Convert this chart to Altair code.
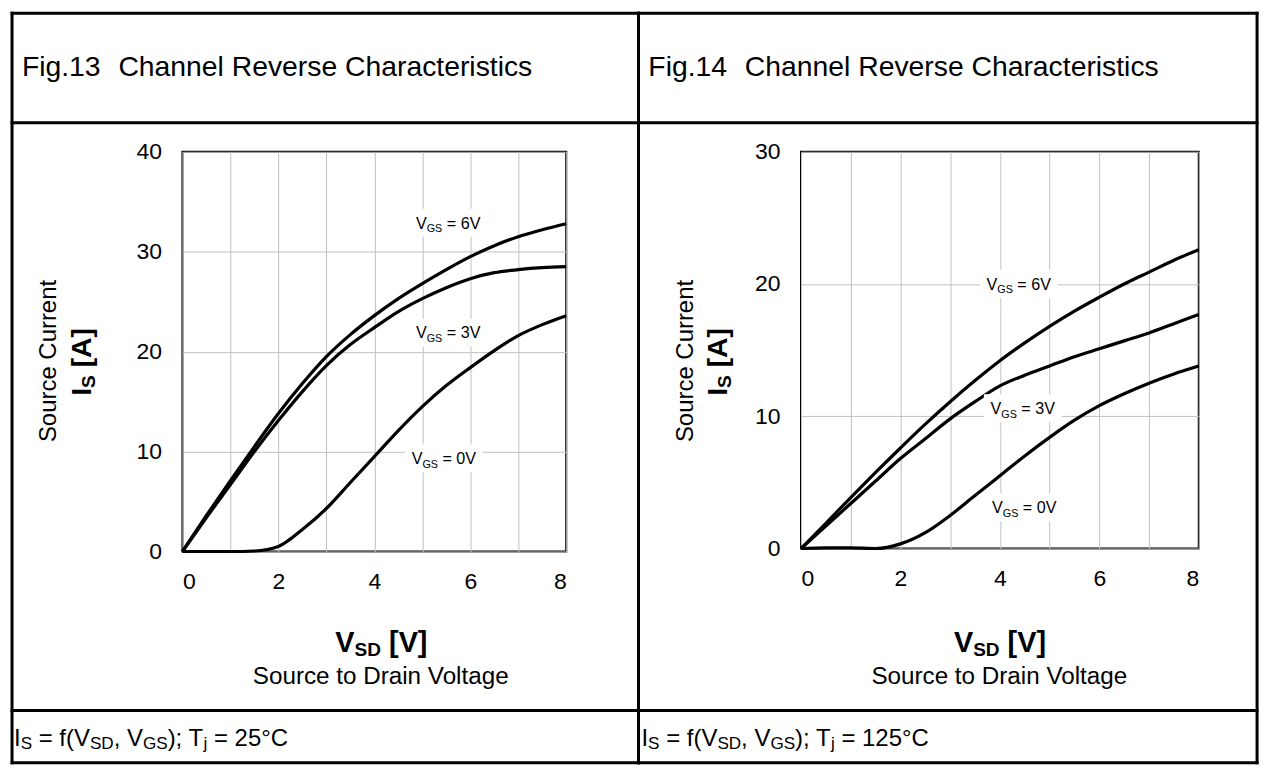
import altair as alt
import pandas as pd

# ---------------- values ----------------
V_SD = [0, 0.5, 1, 1.5, 2, 2.5, 3, 3.5, 4, 4.5, 5, 5.5, 6, 6.5, 7, 7.5, 8]

# Fig.13, Tj = 25 C
IS_25_VGS6 = [0, 3.6, 7.1, 10.5, 13.8, 16.8, 19.5, 21.7, 23.6, 25.3, 26.8, 28.2, 29.5, 30.6, 31.5, 32.2, 32.8]
IS_25_VGS3 = [0, 3.4, 6.7, 10.0, 13.1, 16.0, 18.6, 20.7, 22.4, 24.0, 25.3, 26.4, 27.3, 27.9, 28.2, 28.4, 28.5]
IS_25_VGS0 = [0, 0, 0, 0.05, 0.5, 2.2, 4.3, 6.9, 9.5, 12.1, 14.5, 16.6, 18.4, 20.1, 21.6, 22.7, 23.6]

# Fig.14, Tj = 125 C
IS_125_VGS6 = [0, 1.9, 3.85, 5.75, 7.6, 9.4, 11.1, 12.7, 14.2, 15.55, 16.8, 17.95, 19.0, 20.0, 20.9, 21.8, 22.6]
IS_125_VGS3 = [0, 1.7, 3.4, 5.1, 6.8, 8.3, 9.8, 11.1, 12.3, 13.1, 13.8, 14.5, 15.1, 15.7, 16.3, 17.0, 17.7]
IS_125_VGS0 = [0, 0.05, 0.05, 0, 0.35, 1.2, 2.5, 4.0, 5.5, 7.0, 8.4, 9.7, 10.8, 11.7, 12.5, 13.2, 13.8]

GATE = ["6V", "3V", "0V"]
LABEL_X_25 = [5.54, 5.54, 5.45]
LABEL_Y_25 = [32.9, 21.9, 9.3]
LABEL_X_125 = [4.38, 4.46, 4.49]
LABEL_Y_125 = [20.0, 10.6, 3.1]

X_TICKS = [0, 1, 2, 3, 4, 5, 6, 7, 8]
Y_TICKS_25 = [0, 10, 20, 30, 40]
Y_TICKS_125 = [0, 10, 20, 30]

# ---------------- layout helpers ----------------
FONT = "Liberation Sans"
SX = 1249 / 1264
SY = 752 / 774
FS = 0.98


def PX(X):
    return 9.5 + (X - 2) * SX


def PY(Y):
    return 9.5 + (Y - 2) * SY


ONE = pd.DataFrame({"k": [0]})

REG = {" ": 278, "(": 333, ")": 333, ",": 278, ".": 278, ";": 278, "=": 584, "[": 278, "]": 278,
       "\u00b0": 400, "A": 667, "C": 722, "D": 722, "F": 611, "G": 778, "I": 278, "R": 722,
       "S": 667, "T": 611, "V": 667, "a": 556, "c": 500, "e": 556, "f": 278, "g": 556, "h": 556,
       "i": 222, "j": 222, "l": 222, "n": 556, "o": 556, "r": 333, "s": 500, "t": 278, "u": 556,
       "v": 500}
BOLD = {" ": 278, "[": 333, "]": 333, "A": 722, "D": 722, "I": 278, "S": 667, "V": 667}


def tw(s, size, bold=False):
    t = BOLD if bold else REG
    return sum(t.get(c, 556) for c in s) * size / 1000.0


def rich_text(pieces, x, y, size, sub_size, drop, bold=False, center=False, angle=0):
    ws = [tw(t, sub_size if s else size, bold) for t, s in pieces]
    cur = -sum(ws) / 2 if center else 0.0
    out = []
    for (t, s), w in zip(pieces, ws):
        fsz = sub_size if s else size
        lead = len(t) - len(t.lstrip(" "))
        body = t.strip(" ")
        off = cur + tw(" " * lead, fsz, bold)
        if body:
            out.append(
                alt.Chart(ONE).mark_text(
                    text=body, font=FONT, fontSize=fsz, fontWeight="bold" if bold else "normal",
                    align="left", baseline="alphabetic", angle=angle, dx=off,
                    dy=drop if s else 0, color="black",
                ).encode(x=alt.value(x), y=alt.value(y))
            )
        cur += w
    return out


def hrule(x1, x2, y, w=3):
    return alt.Chart(ONE).mark_rule(color="black", strokeWidth=w, strokeCap="square").encode(
        x=alt.value(x1), x2=alt.value(x2), y=alt.value(y))


def vrule(x, y1, y2, w=3):
    return alt.Chart(ONE).mark_rule(color="black", strokeWidth=w, strokeCap="square").encode(
        x=alt.value(x), y=alt.value(y1), y2=alt.value(y2))


TICK_FS = 23.5 * FS
X_AXIS = alt.Axis(values=X_TICKS, labelExpr="datum.value % 2 === 0 ? datum.label : ''",
                  grid=True, gridColor="#c0c0c0", gridWidth=1, domain=False, ticks=False,
                  tickSize=0, labelFont=FONT, labelFontSize=TICK_FS, labelColor="black",
                  labelPadding=19, title=None)


def xenc(field):
    return alt.X(f"{field}:Q", scale=alt.Scale(domain=[0, 8], nice=False, zero=False), axis=X_AXIS)


def yenc(field, ymax, yticks):
    ax = alt.Axis(values=yticks, grid=True, gridColor="#c0c0c0", gridWidth=1, domain=False,
                  ticks=False, tickSize=0, labelFont=FONT, labelFontSize=TICK_FS,
                  labelColor="black", labelPadding=21, title=None)
    return alt.Y(f"{field}:Q", scale=alt.Scale(domain=[0, ymax], nice=False), axis=ax)


BOX = "M-1,-0.36L1,-0.36L1,0.36L-1,0.36Z"
LBL = 16.5 * FS
LBL_SUB = 11 * FS
wV = tw("V", LBL)
wGS = tw("GS", LBL_SUB)
wSP = tw(" ", LBL)
wREST = tw("= 6V", LBL)
L_TOT = wV + wGS + wSP + wREST
CAP = 0.36 * LBL


def make_cell(fig, tj, series, lx, ly, ymax, yticks, W, H, plot_l, plot_t, box_l, box_r,
              left_border, ref):
    ol, ot = PX(plot_l), PY(plot_t)

    def rx(X):
        return PX(X) - ol

    def ry(Y):
        return PY(Y) - ot

    rows = []
    for g, ys in zip(GATE, series):
        for v, i in zip(V_SD, ys):
            rows.append({"v": v, "i": i, "g": g})
    curves = pd.DataFrame(rows)
    labels = pd.DataFrame({"lx": lx, "ly": ly, "txt": ["= " + g for g in GATE]})

    layers = [
        alt.Chart(curves).mark_line(color="black", strokeWidth=3.2, interpolate="monotone").encode(
            x=xenc("v"), y=yenc("i", ymax, yticks), detail="g:N"),
        alt.Chart(labels).mark_point(shape=BOX, size=78 * 78, filled=True, color="white",
                                     opacity=1, strokeWidth=0).encode(
            x=xenc("lx"), y=yenc("ly", ymax, yticks)),
        alt.Chart(labels).mark_text(text="V", font=FONT, fontSize=LBL, align="left",
                                    baseline="alphabetic", dx=-L_TOT / 2, dy=CAP,
                                    color="black").encode(
            x=xenc("lx"), y=yenc("ly", ymax, yticks)),
        alt.Chart(labels).mark_text(text="GS", font=FONT, fontSize=LBL_SUB, align="left",
                                    baseline="alphabetic", dx=-L_TOT / 2 + wV, dy=CAP + 3.5,
                                    color="black").encode(
            x=xenc("lx"), y=yenc("ly", ymax, yticks)),
        alt.Chart(labels).mark_text(font=FONT, fontSize=LBL, align="left", baseline="alphabetic",
                                    dx=-L_TOT / 2 + wV + wGS + wSP, dy=CAP,
                                    color="black").encode(
            x=xenc("lx"), y=yenc("ly", ymax, yticks), text="txt:N"),
    ]

    # frame of the figure cell
    layers += [hrule(rx(box_l), rx(box_r), ry(2)), hrule(rx(box_l), rx(box_r), ry(115)),
               hrule(rx(box_l), rx(box_r), ry(722)), hrule(rx(box_l), rx(box_r), ry(776)),
               vrule(rx(box_r), ry(2), ry(776))]
    if left_border:
        layers.append(vrule(rx(box_l), ry(2), ry(776)))

    # heading
    layers += rich_text([("Fig." + fig, False)], rx(ref["fig_x"]), ry(67), 29 * FS, 20, 0)
    layers += rich_text([("Channel Reverse Characteristics", False)], rx(ref["chan_x"]), ry(67),
                        29 * FS, 20, 0)
    # y axis titles
    layers += rich_text([("Source Current", False)], rx(ref["yt1_x"]), ry(ref["yt1_y"]),
                        24.5 * FS, 16, 0, center=True, angle=270)
    layers += rich_text([("I", False), ("S", True), (" [A]", False)], rx(ref["yt2_x"]),
                        ry(ref["yt2_y"]), 29 * FS, 19.5 * FS, 4, bold=True, center=True, angle=270)
    # x axis titles
    layers += rich_text([("V", False), ("SD", True), (" [V]", False)], rx(ref["xt_x"]), ry(661.7),
                        29.5 * FS, 19.5 * FS, 4, bold=True, center=True)
    layers += rich_text([("Source to Drain Voltage", False)], rx(ref["xt_x"]), ry(695),
                        24.8 * FS, 16, 0, center=True)
    # footnote
    layers += rich_text([("I", False), ("S", True), (" = f(V", False), ("SD", True),
                         (", V", False), ("GS", True), ("); T", False), ("j", True),
                         (" = " + tj + "\u00b0C", False)],
                        rx(ref["foot_x"]), ry(758.3), 24.5 * FS, 17.5 * FS, 3.5)

    return alt.layer(*layers).properties(width=W, height=H)


W1 = round(390 * SX)
H1 = round(413 * SY)
W2 = round(404 * SX)
H2 = round(410 * SY)

cell1 = make_cell("13", "25", [IS_25_VGS6, IS_25_VGS3, IS_25_VGS0], LABEL_X_25, LABEL_Y_25,
                  40, Y_TICKS_25, W1, H1, 175, 145, 2, 638, True,
                  dict(fig_x=12, chan_x=110, yt1_x=47, yt1_y=361, yt2_x=82, yt2_y=362,
                       xt_x=377, foot_x=4))
cell2 = make_cell("14", "125", [IS_125_VGS6, IS_125_VGS3, IS_125_VGS0], LABEL_X_125,
                  LABEL_Y_125, 30, Y_TICKS_125, W2, H2, 803, 145, 638, 1266, False,
                  dict(fig_x=648, chan_x=746, yt1_x=693, yt1_y=361, yt2_x=728, yt2_y=362,
                       xt_x=1005, foot_x=641))

SPACING = PX(803) - PX(175) - W1

chart = alt.hconcat(cell1, cell2, spacing=SPACING, bounds="flush").properties(
    padding=0, background="white").configure_view(stroke="black", strokeWidth=2)

chart.save("out.html", embed_options={"renderer": "svg", "actions": False})
